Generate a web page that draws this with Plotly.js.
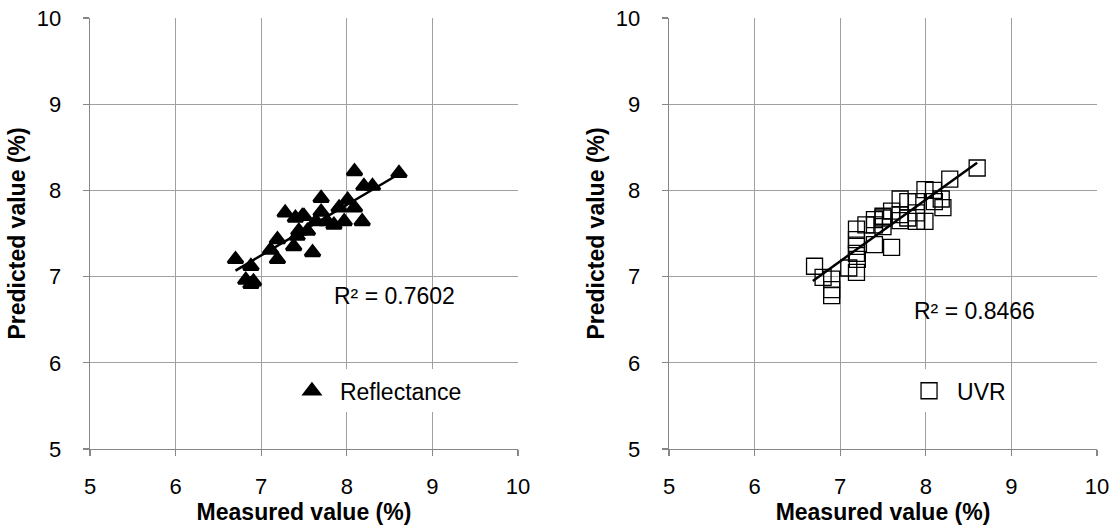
<!DOCTYPE html>
<html>
<head>
<meta charset="utf-8">
<script src="https://cdn.plot.ly/plotly-3.0.1.min.js"></script>
<style>html,body{margin:0;padding:0;background:#fff;}#chart{width:1115px;height:529px;}</style>
</head>
<body>
<div id="chart"></div>
<script>
// Reflectance (left panel)
const reflMeasured = [6.70, 6.88, 6.82, 6.88, 6.91, 7.11, 7.19, 7.19, 7.28, 7.40, 7.48, 7.38, 7.42, 7.44, 7.54, 7.50, 7.60, 7.64, 7.70, 7.70, 7.77, 7.85, 7.91, 7.97, 8.01, 8.09, 8.09, 8.18, 8.20, 8.30, 8.61];
const reflPredicted = [7.20, 7.12, 6.96, 6.91, 6.94, 7.31, 7.43, 7.20, 7.74, 7.68, 7.70, 7.35, 7.47, 7.53, 7.53, 7.70, 7.28, 7.64, 7.91, 7.75, 7.64, 7.60, 7.80, 7.64, 7.89, 8.22, 7.80, 7.64, 8.05, 8.05, 8.20];
const reflTrendX = [6.70, 8.61];
const reflTrendY = [7.07, 8.19];
const reflR2 = "R² = 0.7602";

// UVR (right panel)
const uvrMeasured = [6.70, 6.80, 6.90, 6.90, 6.90, 7.10, 7.19, 7.19, 7.19, 7.19, 7.19, 7.20, 7.30, 7.40, 7.40, 7.40, 7.50, 7.50, 7.50, 7.60, 7.60, 7.70, 7.70, 7.70, 7.79, 7.79, 7.89, 7.89, 7.89, 7.99, 7.99, 8.09, 8.10, 8.18, 8.20, 8.28, 8.60];
const uvrPredicted = [7.12, 6.99, 6.97, 6.85, 6.78, 7.10, 7.05, 7.55, 7.43, 7.35, 7.27, 7.20, 7.60, 7.66, 7.60, 7.37, 7.68, 7.58, 7.70, 7.34, 7.76, 7.90, 7.72, 7.65, 7.87, 7.68, 7.87, 7.74, 7.64, 8.01, 7.64, 8.00, 7.87, 7.90, 7.80, 8.13, 8.26];
const uvrTrendX = [6.68, 8.60];
const uvrTrendY = [6.95, 8.32];
const uvrR2 = "R² = 0.8466";

const axisTicks = [5, 6, 7, 8, 9, 10];
const xTitle = "Measured value (%)";
const yTitle = "Predicted value (%)";

const FONT = "Liberation Sans, Arial, sans-serif";
const titleFont = {family: FONT, size: 23, color: '#000', weight: 'bold'};

const traces = [
  {x: reflMeasured, y: reflPredicted, type: 'scatter', mode: 'markers', name: 'Reflectance',
   xaxis: 'x', yaxis: 'y', legend: 'legend',
   marker: {symbol: 'triangle-up', size: 13, color: '#000', line: {color: '#000', width: 3}}},
  {x: reflTrendX, y: reflTrendY, type: 'scatter', mode: 'lines', showlegend: false,
   xaxis: 'x', yaxis: 'y', line: {color: '#000', width: 2.5}},
  {x: uvrMeasured, y: uvrPredicted, type: 'scatter', mode: 'markers', name: 'UVR',
   xaxis: 'x2', yaxis: 'y2', legend: 'legend2',
   marker: {symbol: 'square-open', size: 16, color: '#000', line: {color: '#000', width: 1.3}}},
  {x: uvrTrendX, y: uvrTrendY, type: 'scatter', mode: 'lines', showlegend: false,
   xaxis: 'x2', yaxis: 'y2', line: {color: '#000', width: 2.5}}
];

function axis(extra) {
  return Object.assign({
    range: [5, 10], tickvals: axisTicks, ticktext: axisTicks.map(String),
    showgrid: true, gridcolor: '#a0a0a0', gridwidth: 1.3,
    showline: true, linecolor: '#868686', linewidth: 1.3,
    ticks: 'outside', ticklen: 6, tickcolor: '#868686', tickwidth: 1.3,
    zeroline: false, fixedrange: true,
    tickfont: {family: FONT, size: 22, color: '#000'}
  }, extra);
}

const layout = {
  width: 1115, height: 529,
  margin: {l: 90, r: 18, t: 18, b: 80},
  paper_bgcolor: '#fff', plot_bgcolor: '#fff',
  font: {family: FONT, color: '#000'},
  xaxis: axis({domain: [0, 0.425], anchor: 'y', ticklabelstandoff: 11,
    title: {text: xTitle, font: titleFont, standoff: 4}}),
  yaxis: axis({domain: [0, 1], anchor: 'x', ticklabelstandoff: 17,
    title: {text: yTitle, font: titleFont, standoff: 4}}),
  xaxis2: axis({domain: [0.575, 1], anchor: 'y2', ticklabelstandoff: 11,
    title: {text: xTitle, font: titleFont, standoff: 4}}),
  yaxis2: axis({domain: [0, 1], anchor: 'x2', ticklabelstandoff: 17,
    title: {text: yTitle, font: titleFont, standoff: 4}}),
  legend: {x: 0.1926, xanchor: 'left', y: 0.135, yanchor: 'middle', bgcolor: '#fff',
    itemwidth: 46, font: {family: FONT, size: 23, color: '#000'}, borderwidth: 0},
  legend2: {x: 0.8054, xanchor: 'left', y: 0.135, yanchor: 'middle', bgcolor: '#fff',
    itemwidth: 46, font: {family: FONT, size: 23, color: '#000'}, borderwidth: 0},
  annotations: [
    {text: reflR2, xref: 'x', yref: 'y', x: 8.56, y: 6.78, showarrow: false,
     font: {family: FONT, size: 23, color: '#000'}},
    {text: uvrR2, xref: 'x2', yref: 'y2', x: 8.57, y: 6.6, showarrow: false,
     font: {family: FONT, size: 23, color: '#000'}}
  ]
};

Plotly.newPlot('chart', traces, layout, {displayModeBar: false, staticPlot: true});
</script>
</body>
</html>
